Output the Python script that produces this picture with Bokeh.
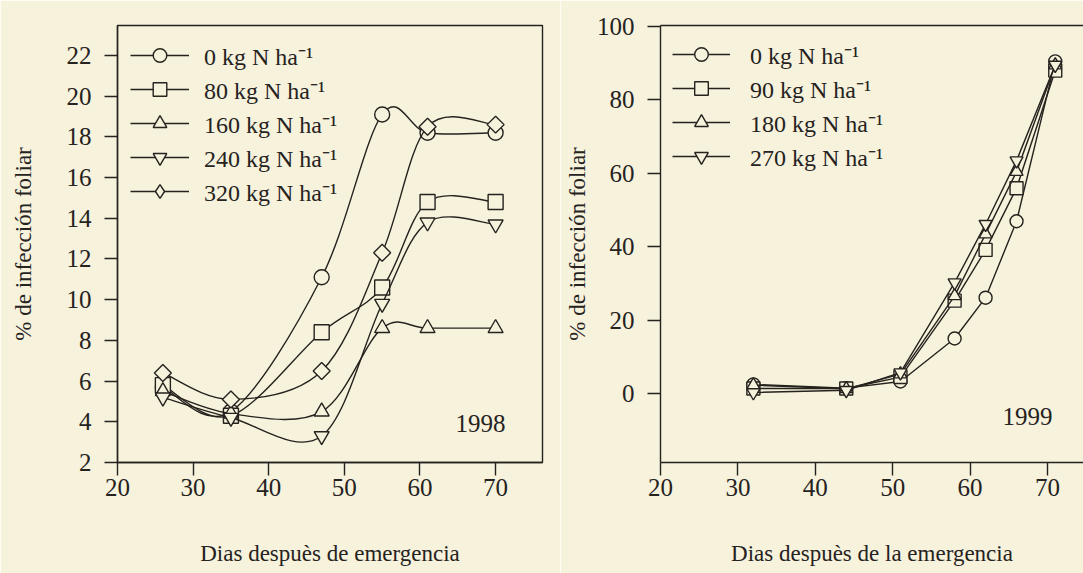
import math
from bokeh.plotting import figure
from bokeh.models import Range1d, Legend, LegendItem, Label, LinearAxis, FixedTicker
from bokeh.layouts import row
from bokeh.embed import file_html
from bokeh.resources import INLINE

BG = "#f6f2dc"
INK = "#26221e"
FONT = "Liberation Serif"

# ---- 1998 data ----
days98 = [26, 35, 47, 55, 61, 70]
n0_98 = [5.7, 4.5, 11.1, 19.1, 18.2, 18.2]
n80_98 = [5.8, 4.3, 8.4, 10.6, 14.8, 14.8]
n160_98 = [5.5, 4.4, 4.5, 8.6, 8.6, 8.6]
n240_98 = [5.2, 4.2, 3.3, 9.8, 13.8, 13.7]
n320_98 = [6.4, 5.1, 6.5, 12.3, 18.5, 18.6]
labels98 = ["0 kg N ha\u207b\u00b9", "80 kg N ha\u207b\u00b9", "160 kg N ha\u207b\u00b9",
            "240 kg N ha\u207b\u00b9", "320 kg N ha\u207b\u00b9"]

# ---- 1999 data ----
days99 = [32, 44, 51, 58, 62, 66, 71]
n0_99 = [2.6, 1.6, 3.4, 15.1, 26.2, 47.0, 90.5]
n90_99 = [1.5, 1.5, 4.6, 25.4, 39.2, 56.0, 88.0]
n180_99 = [2.4, 1.4, 5.4, 26.7, 43.5, 60.5, 89.5]
n270_99 = [0.4, 1.0, 5.8, 30.3, 46.2, 63.5, 89.5]
labels99 = ["0 kg N ha\u207b\u00b9", "90 kg N ha\u207b\u00b9", "180 kg N ha\u207b\u00b9",
            "270 kg N ha\u207b\u00b9"]

y_ticks98 = [2, 4, 6, 8, 10, 12, 14, 16, 18, 20, 22]
y_ticks99 = [0, 20, 40, 60, 80, 100]
x_ticks = [20, 30, 40, 50, 60, 70]

markers98 = ["circle", "square", "triangle", "inverted_triangle", "diamond"]
markers99 = ["circle", "square", "triangle", "inverted_triangle"]

LW = 1.4


def style(p, yticks, ylab, xlab, std_y):
    p.background_fill_color = BG
    p.border_fill_color = BG
    p.xgrid.visible = False
    p.ygrid.visible = False
    for ax, ticks in ((p.xaxis[0], x_ticks), (p.yaxis[0], yticks)):
        ax.ticker = FixedTicker(ticks=ticks)
        ax.minor_tick_line_color = None
        ax.major_tick_in = 0
        ax.major_tick_out = 13
        ax.axis_line_color = INK
        ax.major_tick_line_color = INK
        ax.axis_line_width = 1.4
        ax.major_tick_line_width = 1.4
        ax.major_label_text_font = FONT
        ax.major_label_text_font_size = "25px"
        ax.major_label_text_color = INK
        ax.axis_label_text_font = FONT
        ax.axis_label_text_font_size = "23px"
        ax.axis_label_text_font_style = "normal"
        ax.axis_label_text_color = INK
    p.xaxis[0].axis_label = xlab
    p.yaxis[0].axis_label = ylab
    p.xaxis[0].major_label_standoff = 3
    p.xaxis[0].axis_label_standoff = 42
    p.yaxis[0].major_label_standoff = 13
    p.yaxis[0].axis_label_standoff = std_y


def bezier_segments(xs, ys):
    # Catmull-Rom control points derived from the data points
    n = len(xs)
    X = [xs[0]] + list(xs) + [xs[-1]]
    Y = [ys[0]] + list(ys) + [ys[-1]]
    seg = dict(x0=[], y0=[], x1=[], y1=[], cx0=[], cy0=[], cx1=[], cy1=[])
    for i in range(1, n):
        seg["x0"].append(X[i]); seg["y0"].append(Y[i])
        seg["x1"].append(X[i + 1]); seg["y1"].append(Y[i + 1])
        seg["cx0"].append(X[i] + (X[i + 1] - X[i - 1]) / 6)
        seg["cy0"].append(Y[i] + (Y[i + 1] - Y[i - 1]) / 6)
        seg["cx1"].append(X[i + 1] - (X[i + 2] - X[i]) / 6)
        seg["cy1"].append(Y[i + 1] - (Y[i + 2] - Y[i]) / 6)
    return seg


# ---------------- left panel (1998) ----------------
p1 = figure(width=560, height=573, output_backend="svg", toolbar_location=None,
            x_range=Range1d(20, 76.2), y_range=Range1d(2, 23.47),
            min_border_left=117, min_border_right=18, min_border_top=25,
            min_border_bottom=111)
style(p1, y_ticks98, "% de infección foliar", "Dias despuès de emergencia", 28)
p1.outline_line_color = INK
p1.outline_line_width = 1.4
p1.outline_line_alpha = 1

items = []
for ys, lab, mk in zip([n0_98, n80_98, n160_98, n240_98, n320_98], labels98, markers98):
    p1.bezier(line_color=INK, line_width=LW, **bezier_segments(days98, ys))
    lr = p1.line(x=[days98[0]], y=[ys[0]], line_color=INK, line_width=LW)
    if mk == "diamond":
        sr = p1.scatter(days98, ys, marker="diamond", size=12, fill_color=BG,
                        line_color=INK, line_width=LW)
        p1.scatter(days98, ys, marker="square", angle=math.pi / 4, size=12,
                   fill_color=BG, line_color=INK, line_width=LW)
    else:
        sr = p1.scatter(days98, ys, marker=mk, size=15, fill_color=BG,
                        line_color=INK, line_width=LW)
    items.append(LegendItem(label=lab, renderers=[lr, sr]))

leg1 = Legend(items=items, location="top_left", margin=0, padding=13,
              glyph_width=59, glyph_height=34, label_height=30, spacing=0,
              label_standoff=15, background_fill_alpha=0, border_line_alpha=0,
              label_text_font=FONT, label_text_font_size="24px", label_text_color=INK)
p1.add_layout(leg1)
p1.add_layout(Label(x=68.0, y=3.9, text="1998", text_align="center", text_baseline="middle",
                    text_font=FONT, text_font_size="25px", text_color=INK))

# ---------------- right panel (1999) ----------------
p2 = figure(width=523, height=573, output_backend="svg", toolbar_location=None,
            x_range=Range1d(20, 74.65), y_range=Range1d(-18.65, 100.27),
            min_border_left=100, min_border_right=0, min_border_top=23,
            min_border_bottom=110)
style(p2, y_ticks99, "% de infección foliar", "Dias despuès de la emergencia", 4)
p2.outline_line_color = None
top_axis = LinearAxis(ticker=FixedTicker(ticks=[]), major_tick_line_color=None,
                      minor_tick_line_color=None, axis_line_color=INK,
                      axis_line_width=1.4)
p2.add_layout(top_axis, "above")

items2 = []
for ys, lab, mk in zip([n0_99, n90_99, n180_99, n270_99], labels99, markers99):
    lr = p2.line(days99, ys, line_color=INK, line_width=LW)
    sr = p2.scatter(days99, ys, marker=mk, size=13, fill_color=BG,
                    line_color=INK, line_width=LW)
    items2.append(LegendItem(label=lab, renderers=[lr, sr]))

leg2 = Legend(items=items2, location="top_left", margin=0, padding=12,
              glyph_width=58, glyph_height=34, label_height=30, spacing=0,
              label_standoff=20, background_fill_alpha=0, border_line_alpha=0,
              label_text_font=FONT, label_text_font_size="24px", label_text_color=INK)
p2.add_layout(leg2)
p2.add_layout(Label(x=67.4, y=-6.2, text="1999", text_align="center", text_baseline="middle",
                    text_font=FONT, text_font_size="25px", text_color=INK))

layout = row(p1, p2)
open("out.html", "w").write(file_html(layout, INLINE))
